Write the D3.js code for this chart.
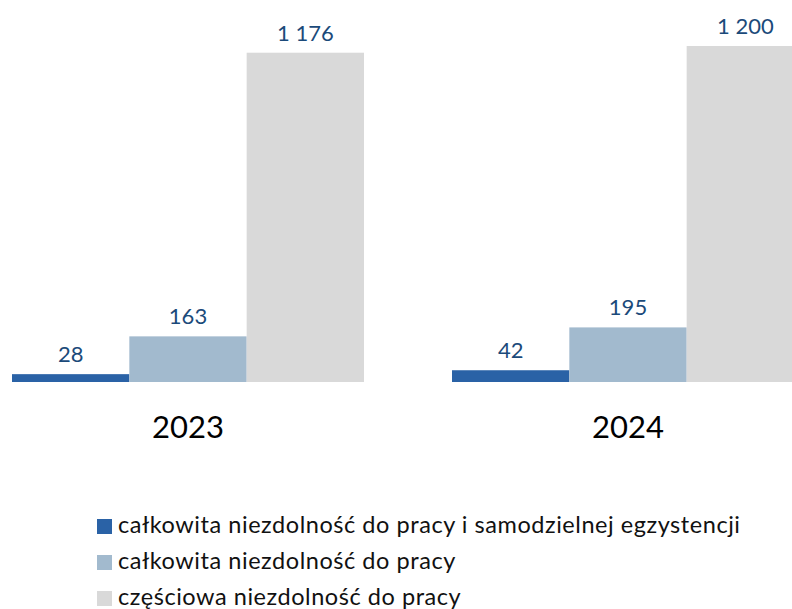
<!DOCTYPE html>
<html><head><meta charset="utf-8">
<script src="https://cdn.jsdelivr.net/npm/d3@7"></script>
<style>body{margin:0;background:#fff}svg{display:block;font-family:Lato,sans-serif}</style>
</head><body>
<svg id="chart" width="792" height="609"></svg>
<script>
const years = ["2023", "2024"];
const seriesNames = [
  "całkowita niezdolność do pracy i samodzielnej egzystencji",
  "całkowita niezdolność do pracy",
  "częściowa niezdolność do pracy"
];
const series1 = [28, 42];
const series2 = [163, 195];
const series3 = [1176, 1200];
const colors = ["#2a62a6", "#a2bace", "#d9d9d9"];
const allSeries = [series1, series2, series3];

const svg = d3.select("#chart");
const x0 = d3.scaleBand().domain(years).range([-32, 848]).paddingInner(0.2).paddingOuter(0.1);
const x1 = d3.scaleBand().domain(d3.range(seriesNames.length)).range([0, x0.bandwidth()]);
const y = d3.scaleLinear().domain([0, 1200]).range([382, 46]);
const fmt = v => d3.format(",")(v).replace(/,/g, " ");

const g = svg.append("g");
years.forEach((yr, i) => {
  const gg = g.append("g").attr("transform", `translate(${x0(yr)},0)`);
  allSeries.forEach((s, k) => {
    gg.append("rect").attr("x", x1(k)).attr("width", x1.bandwidth())
      .attr("y", y(s[i])).attr("height", y(0) - y(s[i])).attr("fill", colors[k]);
    gg.append("text").attr("x", x1(k) + x1.bandwidth() / 2).attr("y", y(s[i]) - 12)
      .attr("text-anchor", "middle").attr("font-size", 22).attr("fill", "#1b4a7a").text(fmt(s[i]));
  });
});
// category axis labels
g.selectAll(".yr").data(years).join("text")
  .attr("x", d => x0(d) + x0.bandwidth() / 2).attr("y", 438)
  .attr("text-anchor", "middle").attr("font-size", 31).attr("fill", "#000").text(d => d);

// legend
const lg = svg.append("g");
seriesNames.forEach((n, k) => {
  const base = 533 + k * 36;
  lg.append("rect").attr("x", 97).attr("y", base - 14).attr("width", 15).attr("height", 15).attr("fill", colors[k]);
  lg.append("text").attr("x", 118).attr("y", base).attr("font-size", 23.5)
    .attr("letter-spacing", "0.55px").attr("fill", "#111").text(n);
});
</script>
</body></html>
